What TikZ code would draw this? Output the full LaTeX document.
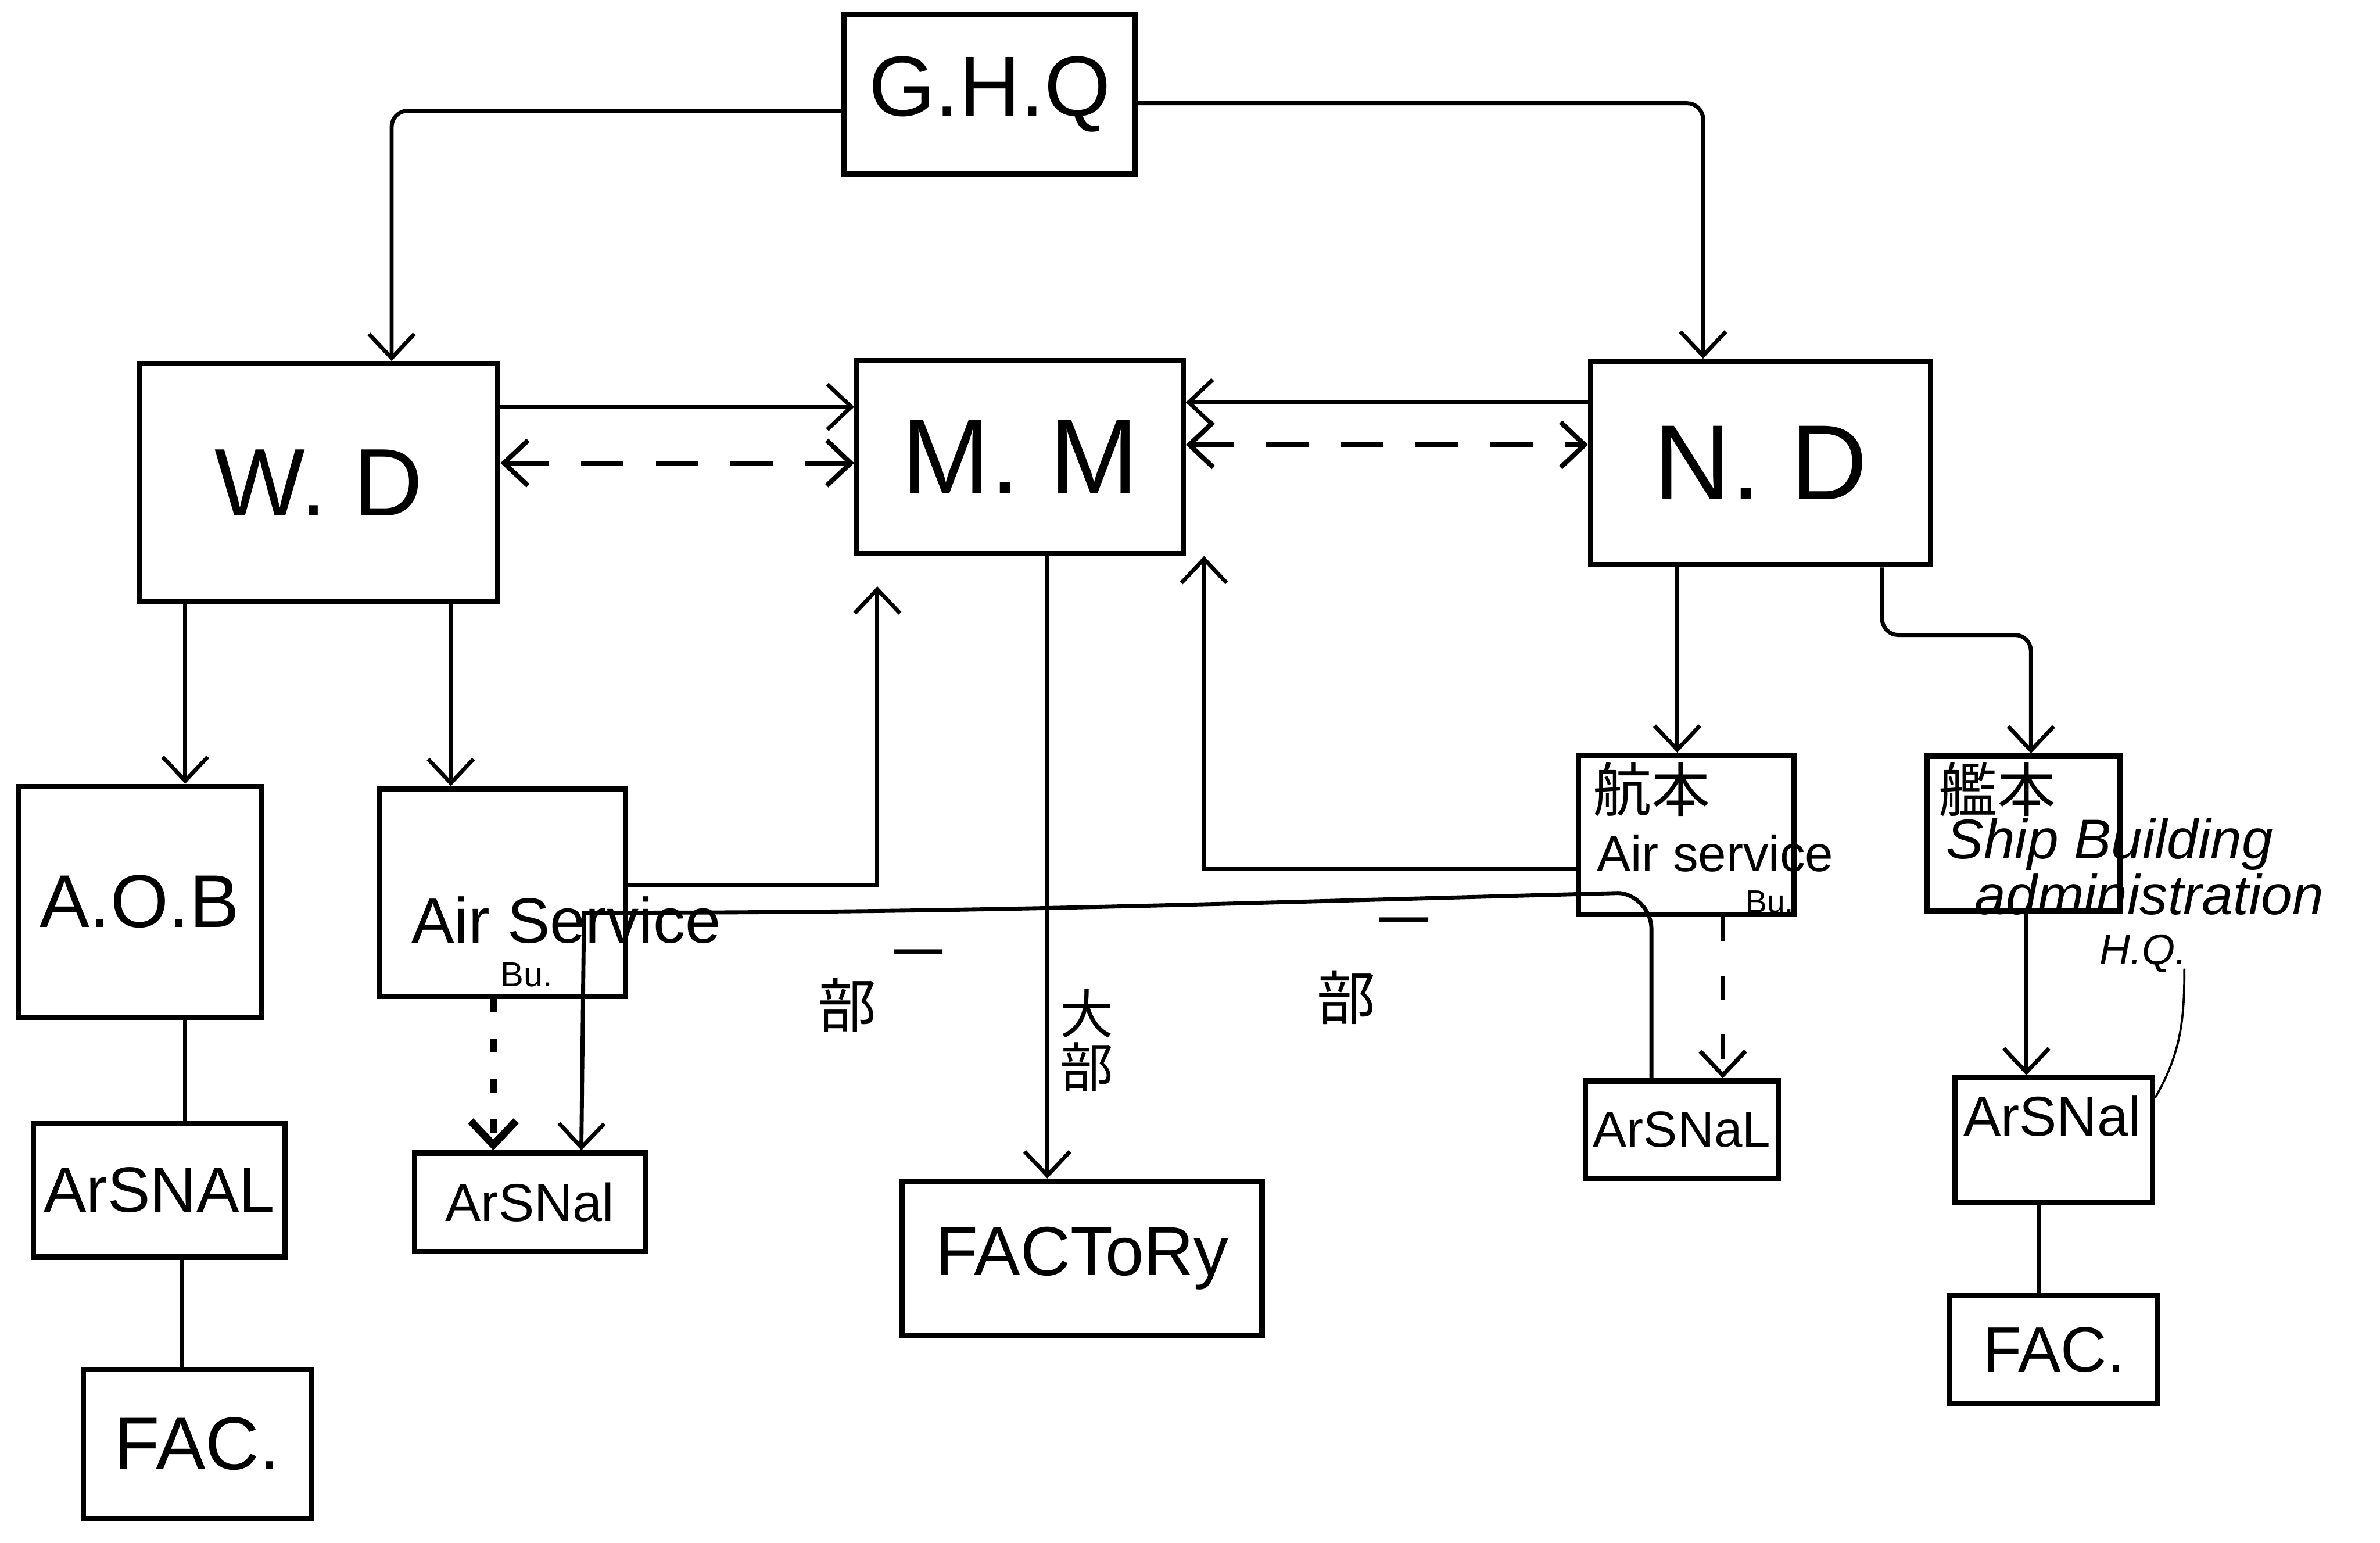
\documentclass[tikz,border=0pt]{standalone}
\usepackage{fontspec}
\setmainfont{Liberation Sans}
\newfontfamily\jp{Noto Sans CJK JP}
\usetikzlibrary{arrows.meta,calc}
\newcommand{\fs}[1]{\fontsize{#1}{#1}\selectfont}

\begin{document}
\begin{tikzpicture}[x=0.02cm, y=-0.02cm, >={Straight Barb[length=9pt,width=17pt]},
    box/.style={draw, line width=2pt, inner sep=0pt},
    arr/.style={->, line width=1.5pt},
    link/.style={line width=1.5pt},
    both/.style={<->, line width=1.8pt, dash pattern=on 16pt off 12pt},
    dotarr/.style={->, line width=2.8pt, dash pattern=on 5pt off 10pt},
    dasharr/.style={->, line width=1.6pt, dash pattern=on 9pt off 13pt}]
  \fill[white] (0,0) rectangle (1568,1016);
  \useasboundingbox (0,0) rectangle (1568,1016);

  % top level
  \node[box, minimum width=3.84cm, minimum height=2.1cm, font=\fs{32}] (ghq) at (652,62) {G.H.Q};
  \node[box, minimum width=4.72cm, minimum height=3.14cm, font=\fs{36}] (wd) at (210,318) {W. D};
  \node[box, minimum width=4.3cm, minimum height=2.54cm, font=\fs{40}] (mm) at (672,301) {M. M};
  \node[box, minimum width=4.48cm, minimum height=2.68cm, font=\fs{40}] (nd) at (1160,305) {N. D};

  % army side
  \node[box, minimum width=3.2cm, minimum height=3.04cm, font=\fs{28}] (aob) at (92,594) {A.O.B};
  \node[box, minimum width=3.24cm, minimum height=2.74cm] (asb) at (331,588) {};
  \node[font=\fs{24}] (asbtxt) at (373,606) {Air Service};
  \node[font=\fs{13}] (asbbu) at (347,642) {Bu.};
  \node[box, minimum width=3.32cm, minimum height=1.76cm, font=\fs{24}] (ars1) at (105,784) {ArSNAL};
  \node[box, minimum width=3.0cm, minimum height=1.96cm, font=\fs{28}] (fac1) at (130,951) {FAC.};
  \node[box, minimum width=3.04cm, minimum height=1.3cm, font=\fs{20}] (ars2) at (349,792) {ArSNal};

  % munitions
  \node[box, minimum width=4.74cm, minimum height=2.04cm, font=\fs{26}] (factory) at (713,829) {FACToRy};

  % navy side
  \node[box, minimum width=2.84cm, minimum height=2.1cm] (kohon) at (1111,550) {};
  \node[font=\jp\fs{22}] (kohonjp) at (1088,520) {航本};
  \node[font=\fs{19}] (kohontxt) at (1130,562) {Air service};
  \node[font=\fs{12}] (kohonbu) at (1166,594) {Bu.};
  \node[box, minimum width=2.54cm, minimum height=1.28cm, font=\fs{19}] (ars3) at (1108,744) {ArSNaL};
  \node[box, minimum width=2.54cm, minimum height=2.04cm] (kanhon) at (1333,549) {};
  \node[font=\jp\fs{22}] (kanhonjp) at (1316,520) {艦本};
  \node[font=\itshape\fs{21}] (ship) at (1390,556) {Ship Building};
  \node[font=\itshape\fs{21}] (admin) at (1416,589) {administration};
  \node[font=\itshape\fs{16}] (hq) at (1412,628) {H.Q.};
  \node[box, minimum width=2.6cm, minimum height=1.64cm] (ars4) at (1353,751) {};
  \node[font=\fs{21}] (ars4txt) at (1352,735) {ArSNal};
  \node[box, minimum width=2.74cm, minimum height=1.42cm, font=\fs{24}] (fac2) at (1353,889) {FAC.};

  % marks on the lines
  \node[font=\jp\fs{22}] (bu1) at (558,662) {部};
  \node[font=\jp\fs{20}] (ichi1) at (605,633) {一};
  \node[font=\jp\fs{22}] (bu2) at (887,657) {部};
  \node[font=\jp\fs{20}] (ichi2) at (925,612) {一};
  \node[font=\jp\fs{20}, align=center, inner sep=0pt] (daibu) at (716,685) {大\\部};

  % G.H.Q downwards
  \draw[arr, rounded corners=6pt] ($(ghq.west)+(0,11)$) -| ($(wd.north)+(48,0)$);
  \draw[arr, rounded corners=6pt] ($(ghq.east)+(0,6)$) -| ($(nd.north)+(-38,0)$);

  % ministries
  \draw[arr] ($(wd.east)+(0,-50)$) -- ($(mm.west)+(0,-33)$);
  \draw[arr] ($(nd.west)+(0,-40)$) -- ($(mm.east)+(0,-36)$);
  \draw[both] ($(wd.east)+(0,-13)$) -- ($(mm.west)+(0,4)$);
  \draw[both] ($(mm.east)+(0,-8)$) -- ($(nd.west)+(0,-12)$);

  % army
  \draw[arr] ($(wd.south)+(-88,0)$) -- ($(aob.north)+(30,0)$);
  \draw[arr] ($(wd.south)+(87,0)$) -- ($(asb.north)+(-34,0)$);
  \draw[arr] ($(asb.east)+(0,-5)$) -| ($(mm.south)+(-94,20)$);
  \draw[dotarr] ($(asb.south)+(-6,0)$) -- ($(ars2.north)+(-24,0)$);
  \draw[link] ($(aob.south)+(30,0)$) -- ($(ars1.north)+(17,0)$);
  \draw[link] ($(ars1.south)+(15,0)$) -- ($(fac1.north)+(-10,0)$);

  % munitions ministry to factory
  \draw[arr] ($(mm.south)+(18,0)$) -- ($(factory.north)+(-23,0)$);

  % navy
  \draw[arr] ($(nd.south)+(-55,0)$) -- ($(kohon.north)+(-6,0)$);
  \draw[arr, rounded corners=6pt] ($(nd.south)+(80,0)$) |- ($(kanhon.north)+(5,-78)$) -- ($(kanhon.north)+(5,0)$);
  \draw[arr] ($(kohon.west)+(0,22)$) -| ($(mm.south east)+(12,0)$);
  \draw[dasharr] ($(kohon.south)+(24,0)$) -- ($(ars3.north)+(27,0)$);
  \draw[arr] ($(ars3.north)+(-20,0)$) -- ++(0,-98) .. controls +(0,-14) and +(10,0) .. ++(-22,-24)
    .. controls +(-300,8) and +(250,0) .. ($(asb.south east)+(-29,-57)$) -- ($(ars2.north)+(34,0)$);
  \draw[arr] ($(kanhon.south)+(2,0)$) -- ($(ars4.north)+(-18,0)$);
  \draw[line width=0.8pt] ($(hq.east)+(-8,10)$) to[out=-90,in=60] ($(ars4.north east)+(0,15)$);
  \draw[link] ($(ars4.south)+(-10,0)$) -- ($(fac2.north)+(-10,0)$);
\end{tikzpicture}
\end{document}
